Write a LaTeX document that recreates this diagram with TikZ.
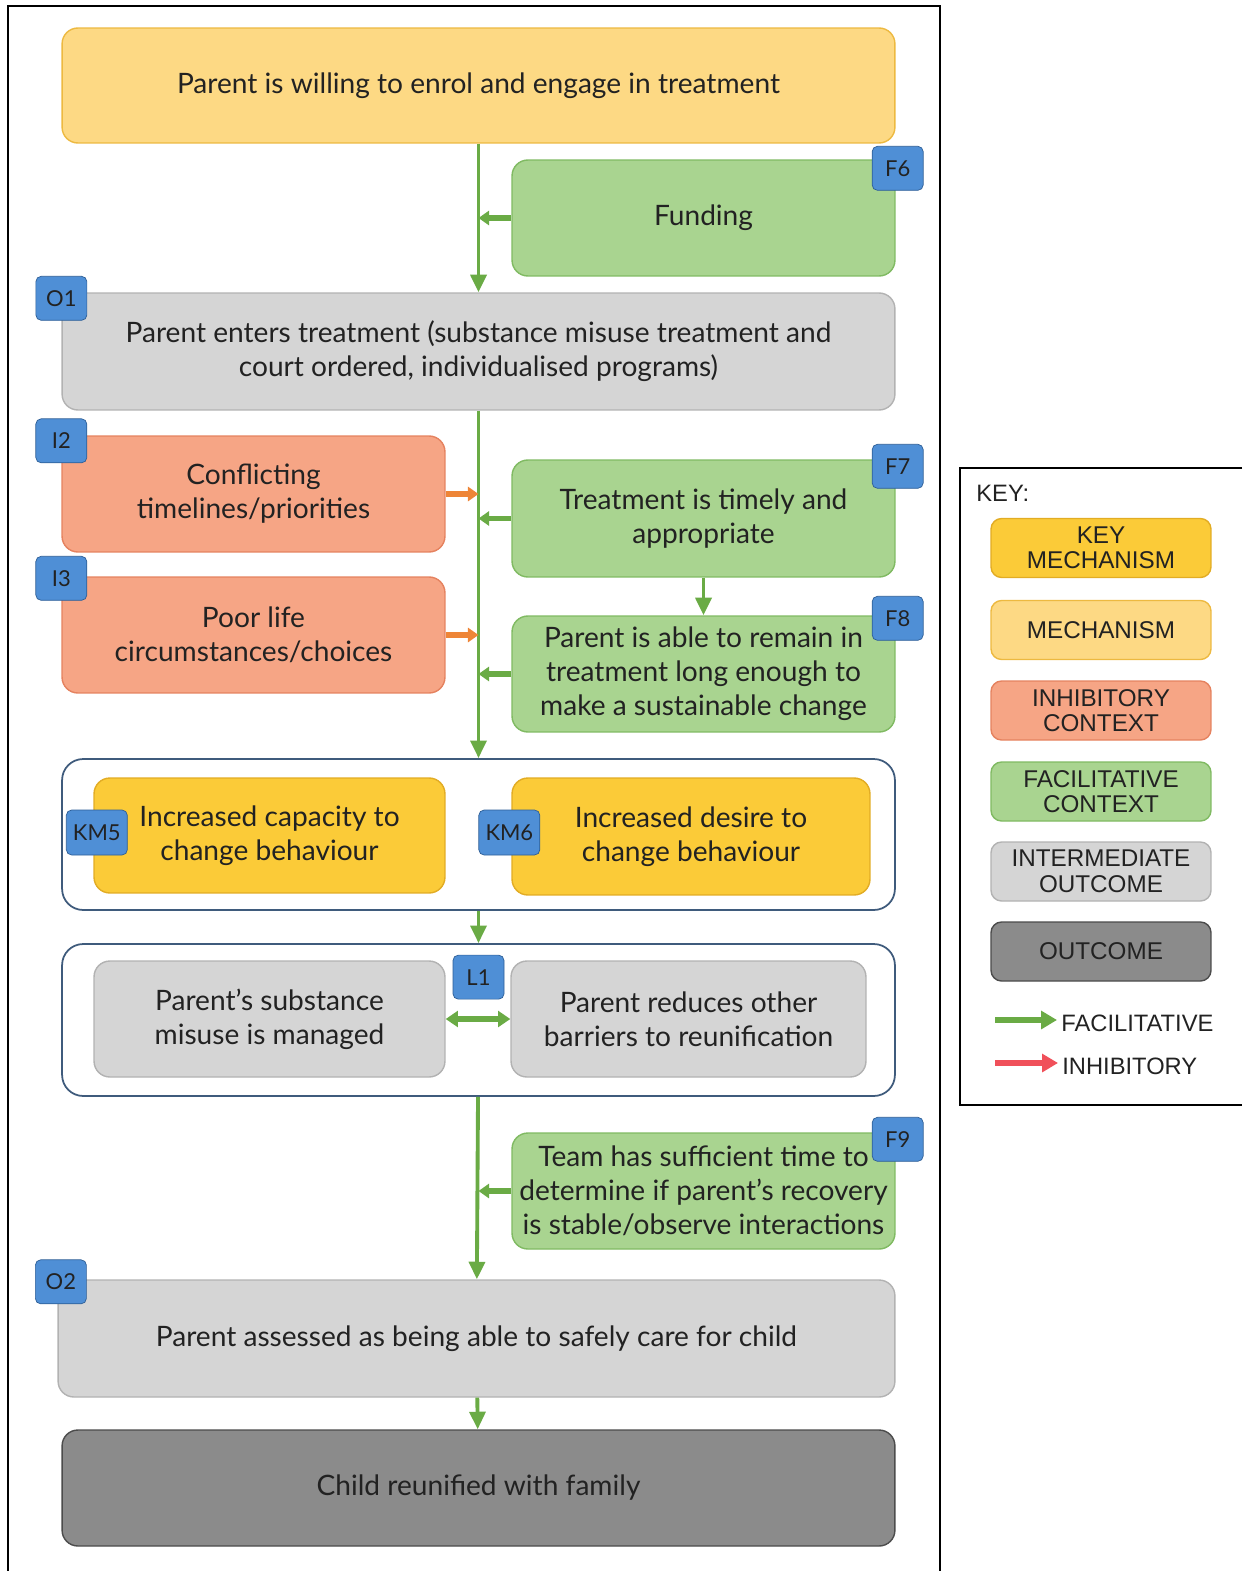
\documentclass[tikz,border=0pt]{standalone}
\usepackage{fontspec}
\setmainfont{Lato}
\newfontfamily\keyfont{Liberation Sans}
\usepackage{tikz}
\usetikzlibrary{positioning,arrows.meta}
\definecolor{mecfill}{HTML}{FDD984}
\definecolor{mecdraw}{HTML}{EDB940}
\definecolor{keyfill}{HTML}{FBCB38}
\definecolor{keydraw}{HTML}{E2AC24}
\definecolor{inhfill}{HTML}{F6A585}
\definecolor{inhdraw}{HTML}{E5825F}
\definecolor{facfill}{HTML}{A9D490}
\definecolor{facdraw}{HTML}{80BA62}
\definecolor{intfill}{HTML}{D5D5D5}
\definecolor{intdraw}{HTML}{B2B2B2}
\definecolor{outfill}{HTML}{8B8B8B}
\definecolor{outdraw}{HTML}{4C4C4C}
\definecolor{tagfill}{HTML}{4F8FD6}
\definecolor{tagdraw}{HTML}{2D5E96}
\definecolor{grupoc}{HTML}{3F5B7C}
\definecolor{verde}{HTML}{6AAB45}
\definecolor{naranja}{HTML}{EE8537}
\definecolor{rojo}{HTML}{F0505A}
\definecolor{texto}{HTML}{222222}

\begin{document}
\begin{tikzpicture}[
  x=0.02cm, y=-0.02cm,
  box/.style={draw, rounded corners=9pt, align=center, text=texto, line width=0.8pt, font=\fontsize{16}{19.3}\selectfont, inner sep=2pt},
  mech/.style={box, fill=mecfill, draw=mecdraw},
  keymech/.style={box, fill=keyfill, draw=keydraw},
  inhib/.style={box, fill=inhfill, draw=inhdraw, minimum width=7.66cm, minimum height=2.32cm},
  facil/.style={box, fill=facfill, draw=facdraw, minimum width=7.66cm, minimum height=2.32cm},
  inter/.style={box, fill=intfill, draw=intdraw},
  outcome/.style={box, fill=outfill, draw=outdraw},
  grupo/.style={draw=grupoc, line width=1pt, rounded corners=12pt, minimum width=16.66cm},
  tag/.style={draw=tagdraw, fill=tagfill, rounded corners=3pt, minimum width=1.02cm, minimum height=0.88cm, inner sep=0pt, font=\fontsize{12.5}{12.5}\selectfont, text=texto},
  legbox/.style={font=\keyfont\fontsize{13.8}{14.5}\selectfont, minimum width=4.4cm, minimum height=1.18cm, rounded corners=6pt},
  keytxt/.style={font=\keyfont\fontsize{13.5}{14.5}\selectfont, text=texto, inner sep=0pt, anchor=west},
  flecha/.style={-{Triangle[width=9pt,length=10pt]}, line width=2.2pt, verde},
  lado/.style={-{Triangle[width=8pt,length=6pt]}, line width=3pt, verde},
  doble/.style={{Triangle[width=9pt,length=7pt]}-{Triangle[width=9pt,length=7pt]}, line width=3pt, verde},
  leyenda/.style={-{Triangle[width=10pt,length=9pt]}, line width=3.5pt}
]
\useasboundingbox (0,0) rectangle (1242,1571);

% frames
\draw[line width=1.2pt] (8,1571) -- (8,6) -- (940,6) -- (940,1571);
\draw[line width=1.2pt] (1242,468) -- (960,468) -- (960,1105) -- (1242,1105);

% main column
\node[mech, minimum width=16.66cm, minimum height=2.3cm] (willing) at (478.5,85.5) {Parent is willing to enrol and engage in treatment};
\node[facil] (fund) at (703.5,218) {Funding};
\node[inter, minimum width=16.66cm, minimum height=2.34cm] (enters) at (478.5,351.5) {Parent enters treatment (substance misuse treatment and\\court ordered, individualised programs)};
\node[inhib] (conflict) at (253.5,494) {Conflicting\\timelines/priorities};
\node[facil, minimum height=2.34cm] (timely) at (703.5,518.5) {Treatment is timely and\\appropriate};
\node[inhib] (poor) at (253.5,635) {Poor life\\circumstances/choices};
\node[facil] (remain) at (703.5,674) {Parent is able to remain in\\treatment long enough to\\make a sustainable change};

\node[grupo, minimum height=3.02cm] (change) at (478.5,834.5) {};
\node[keymech, minimum width=7.02cm, minimum height=2.3cm] (capacity) at (269.5,835.5) {Increased capacity to\\change behaviour};
\node[keymech, minimum width=7.16cm, minimum height=2.34cm] (desire) at (691,836.5) {Increased desire to\\change behaviour};

\node[grupo, minimum height=3.04cm] (managed) at (478.5,1020) {};
\node[inter, minimum width=7.02cm, minimum height=2.32cm] (subst) at (269.5,1019) {Parent’s substance\\misuse is managed};
\node[inter, minimum width=7.1cm, minimum height=2.32cm] (barriers) at (688.5,1019) {Parent reduces other\\barriers to reunification};

\node[facil] (team) at (703.5,1191) {Team has sufficient time to\\determine if parent’s recovery\\is stable/observe interactions};
\node[inter, minimum width=16.74cm, minimum height=2.34cm] (assessed) at (476.5,1338.5) {Parent assessed as being able to safely care for child};
\node[outcome, minimum width=16.66cm, minimum height=2.32cm] (child) at (478.5,1488) {Child reunified with family};

% tags
\node[tag] (tf6) at ([xshift=0.04cm,yshift=-0.18cm]fund.north east) {F6};
\node[tag] (to1) at ([yshift=-0.12cm]enters.north west) {O1};
\node[tag] (ti2) at ([yshift=-0.11cm]conflict.north west) {I2};
\node[tag] (tf7) at ([xshift=0.04cm,yshift=-0.14cm]timely.north east) {F7};
\node[tag] (ti3) at ([yshift=-0.04cm]poor.north west) {I3};
\node[tag] (tf8) at ([xshift=0.04cm,yshift=-0.06cm]remain.north east) {F8};
\node[tag, minimum width=1.22cm, minimum height=0.9cm] (tkm5) at ([xshift=0.07cm,yshift=0.06cm]capacity.west) {KM5};
\node[tag, minimum width=1.22cm, minimum height=0.9cm] (tkm6) at ([xshift=-0.04cm,yshift=0.08cm]desire.west) {KM6};
\node[tag] (tl1) at ([yshift=-0.68cm]managed.north) {L1};
\node[tag] (tf9) at ([xshift=0.04cm,yshift=-0.14cm]team.north east) {F9};
\node[tag] (to2) at ([xshift=0.07cm,yshift=-0.05cm]assessed.north west) {O2};

% connectors
\draw[flecha] (willing) -- (enters);
\draw[lado] (fund) -- (fund -| willing);
\draw[flecha] (enters) -- (change);
\draw[lado, naranja] (conflict) -- (conflict -| enters);
\draw[lado] (timely) -- (timely -| enters);
\draw[flecha] (timely) -- (remain);
\draw[lado, naranja] (poor) -- (poor -| enters);
\draw[lado] (remain) -- (remain -| enters);
\draw[flecha] (change) -- (managed);
\draw[doble] (subst) -- (barriers);
\draw[flecha] (managed) -- (assessed);
\draw[lado] (team) -- (team -| managed);
\draw[flecha] (assessed) -- (child);

% key
\node[keytxt] (key) at (976,493) {KEY:};
\node[keymech, legbox] (lkey) at (1101,548) {KEY\\MECHANISM};
\node[mech, legbox] (lmec) at (1101,630) {MECHANISM};
\node[box, fill=inhfill, draw=inhdraw, legbox] (linh) at (1101,710.5) {INHIBITORY\\CONTEXT};
\node[box, fill=facfill, draw=facdraw, legbox] (lfac) at (1101,791.5) {FACILITATIVE\\CONTEXT};
\node[inter, legbox] (lint) at (1101,871.5) {INTERMEDIATE\\OUTCOME};
\node[outcome, legbox] (lout) at (1101,951.5) {OUTCOME};
\coordinate (afs) at (995,1020);
\node[keytxt] (afac) at (1061,1023) {FACILITATIVE};
\draw[leyenda, verde] (afs) -- ([xshift=-0.08cm]afs -| afac.west);
\coordinate (ais) at (995,1063);
\node[keytxt] (ainh) at (1062,1066) {INHIBITORY};
\draw[leyenda, rojo] (ais) -- ([xshift=-0.08cm]ais -| ainh.west);
\end{tikzpicture}
\end{document}
